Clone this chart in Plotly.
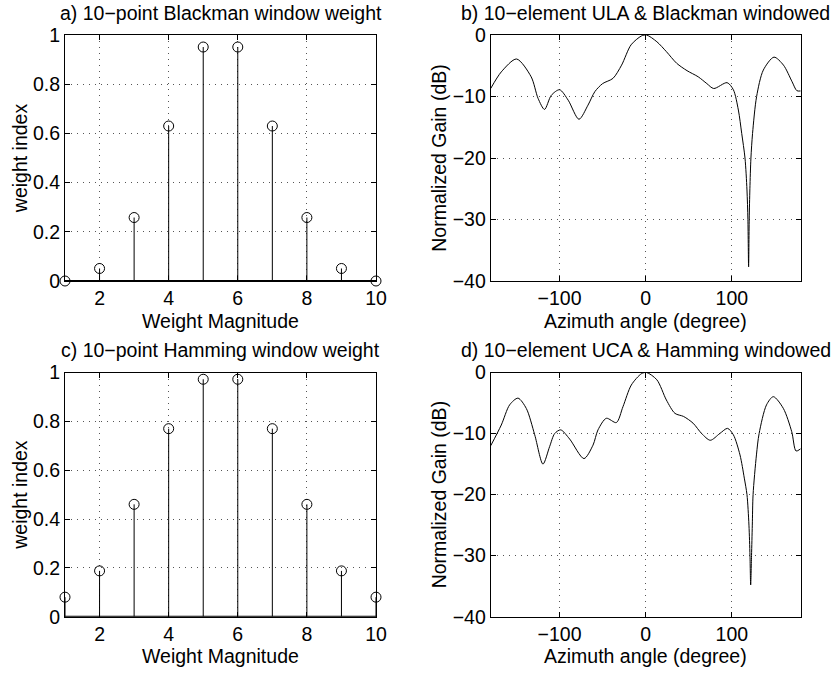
import plotly.graph_objects as go

# ---------------- data ----------------
weight_index = [1, 2, 3, 4, 5, 6, 7, 8, 9, 10]
blackman_w = [0.0, 0.0509, 0.2580, 0.6300, 0.9511, 0.9511, 0.6300, 0.2580, 0.0509, 0.0]
hamming_w = [0.08, 0.1876, 0.4601, 0.7700, 0.9723, 0.9723, 0.7700, 0.4601, 0.1876, 0.08]

angle_b = [-180, -167.7, -150, -133, -125, -117.5, -109.6, -100, -90, -77.5, -67, -59, -50,
           -38, -28, -17, -5, 1, 13, 24, 36, 48, 61, 71, 79, 94.5, 101.8, 107.6, 111.5, 115.3,
           117.6, 118.7, 119.5, 120.2, 121, 122.2, 124.1, 128.8, 136.6, 149, 160, 170, 175.5, 180]
gain_b = [-8.7, -6.0, -3.9, -6.8, -10.3, -12.1, -9.8, -8.9, -10.6, -13.7, -11.4, -9.2, -7.9,
          -7.05, -4.9, -1.6, -0.16, 0.0, -1.1, -2.7, -4.6, -5.8, -6.8, -7.9, -8.7, -7.75, -8.9,
          -12.2, -16.0, -20.0, -25.2, -30.0, -37.7, -30.0, -25.0, -20.0, -16.0, -10.0, -5.7,
          -3.6, -4.9, -7.6, -9.05, -9.1]

angle_d = [-180, -167.7, -158, -148.3, -138.6, -128.9, -119.3, -111.5, -105.7, -98.7, -88.3,
           -71.7, -61.2, -55.4, -45.7, -34.1, -26.4, -16.7, -5, 1, 13, 24, 34, 44, 55, 65, 75,
           86, 95, 101.8, 109.5, 114.5, 117.6, 119.9, 121.1, 121.9, 122.9, 123.8, 124.7, 128.6,
           131.7, 140.3, 148.2, 159.8, 169.6, 174.6, 180]
gain_d = [-12.0, -8.6, -5.3, -4.2, -5.9, -10.2, -15.0, -12.1, -10.0, -9.4, -10.9,
          -14.1, -11.9, -9.4, -7.5, -8.2, -5.6, -2.05, -0.2, 0.0, -1.2, -4.5, -6.7, -7.2, -8.3,
          -10.0, -11.1, -10.0, -9.15, -10.2, -13.5, -17.3, -20.0, -25.0, -30.0, -34.8, -30.0,
          -25.0, -20.0, -13.5, -10.0, -5.3, -3.96, -5.87, -9.7, -12.86, -12.5]

titles = ["a) 10\u2212point Blackman window weight",
          "b) 10\u2212element ULA & Blackman windowed",
          "c) 10\u2212point Hamming window weight",
          "d) 10\u2212element UCA & Hamming windowed"]
x_titles = ["Weight Magnitude", "Azimuth angle (degree)",
            "Weight Magnitude", "Azimuth angle (degree)"]

# ---------------- figure ----------------
W, H = 839, 673
FONT = "Liberation Sans, Arial, Helvetica, sans-serif"
FS = 19.5

fig = go.Figure()

def stem_traces(xs, ys, xa, ya):
    sx, sy = [], []
    for x, y in zip(xs, ys):
        sx += [x, x, None]
        sy += [0, y, None]
    fig.add_trace(go.Scatter(x=sx, y=sy, mode="lines", line=dict(color="black", width=1),
                             xaxis=xa, yaxis=ya, showlegend=False, hoverinfo="skip"))
    fig.add_trace(go.Scatter(x=[xs[0], xs[-1]], y=[0, 0], mode="lines",
                             line=dict(color="black", width=2),
                             xaxis=xa, yaxis=ya, showlegend=False, hoverinfo="skip"))
    fig.add_trace(go.Scatter(x=xs, y=ys, mode="markers", cliponaxis=False,
                             marker=dict(symbol="circle-open", size=10, color="black",
                                         line=dict(width=1, color="black")),
                             xaxis=xa, yaxis=ya, showlegend=False))

stem_traces(weight_index, blackman_w, "x", "y")
fig.add_trace(go.Scatter(x=angle_b, y=gain_b, mode="lines", line=dict(color="black", width=1,
                         shape="spline", smoothing=0.8), xaxis="x2", yaxis="y2", showlegend=False))
stem_traces(weight_index, hamming_w, "x3", "y3")
fig.add_trace(go.Scatter(x=angle_d, y=gain_d, mode="lines", line=dict(color="black", width=1,
                         shape="spline", smoothing=0.8), xaxis="x4", yaxis="y4", showlegend=False))

def px_x(p):
    return p / W

def px_y(p):
    return 1 - p / H

left_dom = [px_x(65), px_x(376)]
right_dom = [px_x(490.7), px_x(800.7)]
top_dom = [px_y(281), px_y(35)]
bot_dom = [px_y(616.7), px_y(372.5)]

common = dict(showline=True, linecolor="black", linewidth=1, mirror="ticks",
              ticks="inside", ticklen=5, tickcolor="black",
              showgrid=True, gridcolor="#555", griddash="1px,5px", gridwidth=1,
              zeroline=False, automargin=False,
              tickfont=dict(family=FONT, size=FS, color="black"))

def yt(text):
    return dict(text=text, font=dict(family=FONT, size=FS, color="black"), standoff=0)

layout = dict(
    width=W, height=H,
    margin=dict(l=0, r=0, t=0, b=0),
    paper_bgcolor="white", plot_bgcolor="white",
    font=dict(family=FONT, size=FS, color="black"),
    xaxis=dict(domain=left_dom, anchor="y", range=[1, 10], tickvals=[2, 4, 6, 8, 10], **common),
    yaxis=dict(domain=top_dom, anchor="x", range=[0, 1], dtick=0.2,
               title=yt("weight index"), **common),
    xaxis2=dict(domain=right_dom, anchor="y2", range=[-180, 180], tickvals=[-100, 0, 100],
                **common),
    yaxis2=dict(domain=top_dom, anchor="x2", range=[-40, 0], dtick=10,
                title=yt("Normalized Gain (dB)"), **common),
    xaxis3=dict(domain=left_dom, anchor="y3", range=[1, 10], tickvals=[2, 4, 6, 8, 10],
                **common),
    yaxis3=dict(domain=bot_dom, anchor="x3", range=[0, 1], dtick=0.2,
                title=yt("weight index"), **common),
    xaxis4=dict(domain=right_dom, anchor="y4", range=[-180, 180], tickvals=[-100, 0, 100],
                **common),
    yaxis4=dict(domain=bot_dom, anchor="x4", range=[-40, 0], dtick=10,
                title=yt("Normalized Gain (dB)"), **common),
)
fig.update_layout(**layout)

lx = (65 + 376) / 2
rx = (490.7 + 800.7) / 2
centers = [(lx, 13), (rx, 13), (lx, 350), (rx, 350)]
for t, (cx, cy) in zip(titles, centers):
    fig.add_annotation(text=t, x=px_x(cx), y=px_y(cy), xref="paper", yref="paper",
                       xanchor="center", yanchor="middle", showarrow=False,
                       font=dict(family=FONT, size=FS, color="black"))

xt_centers = [(lx, 321), (rx, 321), (lx, 656), (rx, 656)]
for t, (cx, cy) in zip(x_titles, xt_centers):
    fig.add_annotation(text=t, x=px_x(cx), y=px_y(cy), xref="paper", yref="paper",
                       xanchor="center", yanchor="middle", showarrow=False,
                       font=dict(family=FONT, size=FS, color="black"))

fig.write_html("out.html")
